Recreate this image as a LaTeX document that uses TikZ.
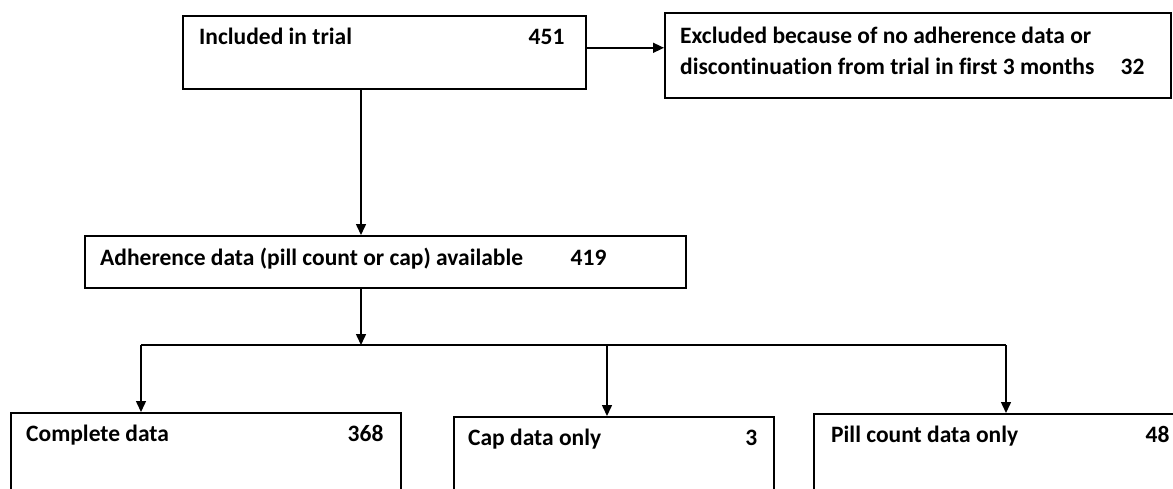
\documentclass[tikz,border=0pt]{standalone}
\usepackage{fontspec}
\setmainfont{Carlito}[Ligatures={NoCommon,NoRare}]
\usetikzlibrary{arrows.meta}

\tikzset{
  box/.style={draw, line width=1.6pt, inner sep=0pt, anchor=north west},
  txt/.style={inner sep=0pt, font=\fontsize{23.5}{31}\selectfont\bfseries},
  arr/.style={line width=1.5pt, -{Triangle[width=10pt,length=11pt]}}
}

\begin{document}
\begin{tikzpicture}[x=1pt,y=-1pt]
        \useasboundingbox[fill=white] (0,0) rectangle (1173,488);

        \node[box, minimum width=403pt, minimum height=73pt] (incl) at (182,15) {};
        \node[txt, anchor=base west] (incl-t) at ([shift={(17,29)}]incl.north west) {Included in trial};
        \node[txt, anchor=base east] (incl-n) at ([shift={(-22,29)}]incl.north east) {451};

        \node[box, minimum width=506pt, minimum height=85pt] (excl) at (664,12) {};
        \node[txt, anchor=base west] (excl-t1) at ([shift={(16,31)}]excl.north west) {Excluded because of no adherence data or};
        \node[txt, anchor=base west] (excl-t2) at ([shift={(16,62)}]excl.north west) {discontinuation from trial in first 3 months};
        \node[txt, anchor=base east] (excl-n) at ([shift={(-27,62)}]excl.north east) {32};

        \node[box, minimum width=601pt, minimum height=52pt] (adh) at (84,235) {};
        \node[txt, anchor=base west] (adh-t) at ([shift={(16,30)}]adh.north west) {Adherence data (pill count or cap) available};
        \node[txt, anchor=base east] (adh-n) at ([shift={(-80,30)}]adh.north east) {419};

        \node[box, minimum width=390pt, minimum height=120pt] (full) at (10,412) {};
        \node[txt, anchor=base west] (full-t) at ([shift={(16,29)}]full.north west) {Complete data};
        \node[txt, anchor=base east] (full-n) at ([shift={(-18,29)}]full.north east) {368};

        \node[box, minimum width=320pt, minimum height=120pt] (caponly) at (453,416) {};
        \node[txt, anchor=base west] (caponly-t) at ([shift={(15,29)}]caponly.north west) {Cap data only};
        \node[txt, anchor=base east] (caponly-n) at ([shift={(-17,29)}]caponly.north east) {3};

        \node[box, minimum width=400pt, minimum height=120pt] (pillonly) at (813,413) {};
        \node[txt, anchor=base west] (pillonly-t) at ([shift={(18,29)}]pillonly.north west) {Pill count data only};
        \node[txt, anchor=base east] (pillonly-n) at ([shift={(-45,29)}]pillonly.north east) {48};

        % connectors
        \coordinate (split) at (361,345);
        \coordinate (brL) at (141,345);
        \coordinate (brM) at (607,345);
        \coordinate (brR) at (1006,345);
        \draw[arr] ([yshift=4.5pt]incl.east) -- ([yshift=4.5pt]incl.east -| excl.west);
        \draw[arr] (incl.south -| split) -- (adh.north -| split);
        \draw[arr] (adh.south -| split) -- (split);
        \draw[line width=1.5pt] (brL) -- (brR);
        \foreach \b/\n in {brL/full, brM/caponly, brR/pillonly}
          \draw[arr] (\b) -- (\b |- \n.north);
      \end{tikzpicture}
\end{document}
